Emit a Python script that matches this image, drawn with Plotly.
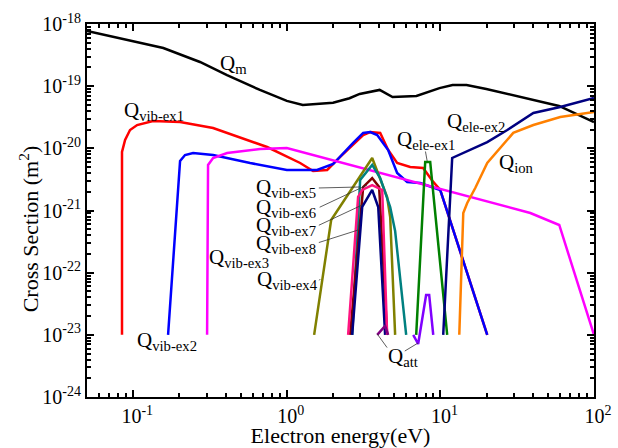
import plotly.graph_objects as go
import math

# ---------------- data (energy in eV, cross section in m^2) ----------------
qm_x = [0.05, 0.106, 0.157, 0.272, 0.408, 0.668, 1.0, 1.27, 1.64, 2.0, 2.56, 2.98,
        4.02, 4.88, 6.98, 8.11, 9.86, 12.0, 14.8, 19.9, 39.5, 59.2, 100]
qm_y = [7.7e-19, 5.1e-19, 4.1e-19, 2.45e-19, 1.51e-19, 8.7e-20, 5.8e-20, 5.0e-20, 5.2e-20,
        5.4e-20, 6.4e-20, 7.5e-20, 8.7e-20, 6.7e-20, 6.95e-20, 7.8e-20, 9.3e-20, 1.04e-19,
        1.04e-19, 9.0e-20, 6.0e-20, 4.8e-20, 2.65e-20]

vib1_x = [0.0845, 0.0845, 0.0885, 0.0953, 0.106, 0.1345, 0.2018, 0.3311, 0.7441, 1.221,
          1.483, 1.831, 2.225, 3.141, 3.49, 4.055, 4.569, 5.228, 6.358, 7.72, 8.98, 9.97, 20.18]
vib1_y = [1e-23, 8.73e-21, 1.36e-20, 1.97e-20, 2.37e-20, 2.75e-20, 2.65e-20, 2.12e-20,
          1.05e-20, 5.81e-21, 4.32e-21, 4.49e-21, 7.26e-21, 1.64e-20, 1.83e-20, 1.77e-20,
          9.40e-21, 5.81e-21, 5.01e-21, 4.83e-21, 2.88e-21, 2.14e-21, 1e-23]

vib2_x = [0.1686, 0.2018, 0.2174, 0.2453, 0.3311, 0.5768, 1.0, 1.574, 2.003, 2.327, 2.703,
          3.141, 3.49, 3.877, 4.569, 5.228, 6.077, 7.384, 9.97, 20.18]
vib2_y = [1e-23, 6.25e-21, 7.81e-21, 8.41e-21, 7.81e-21, 5.81e-21, 4.49e-21, 4.49e-21,
          5.60e-21, 8.41e-21, 1.22e-20, 1.77e-20, 1.83e-20, 1.64e-20, 9.40e-21, 4.01e-21,
          2.88e-21, 2.77e-21, 2.14e-21, 1e-23]

vib3_x = [0.3026, 0.307, 0.3311, 0.4085, 0.6699, 1.0, 38.5, 59.4, 100]
vib3_y = [1e-23, 5.40e-21, 7.00e-21, 8.41e-21, 9.76e-21, 1.01e-20, 9.12e-22, 5.85e-22, 1e-23]

vib4_x = [1.506, 1.944, 3.596, 3.936, 4.499, 4.709, 5.072]
vib4_y = [1e-23, 7.04e-22, 7.00e-21, 4.01e-21, 1.65e-21, 7.87e-22, 1e-23]

vib5_x = [2.663, 3.002, 3.596, 4.055, 4.709, 5.072, 5.986]
vib5_y = [1e-23, 3.10e-21, 5.40e-21, 3.33e-21, 1.14e-21, 4.68e-22, 1e-23]

vib6_x = [2.584, 3.141, 3.596, 3.99, 4.499]
vib6_y = [1e-23, 2.39e-21, 3.33e-21, 2.39e-21, 1e-23]

vib8_x = [2.663, 3.096, 3.596, 3.936, 4.365]
vib8_y = [1e-23, 1.14e-21, 2.14e-21, 1.14e-21, 1e-23]

vib7_x = [2.507, 2.912, 3.096, 3.596, 4.178, 4.24, 4.499]
vib7_y = [1e-23, 1.65e-21, 2.14e-21, 2.57e-21, 2.14e-21, 7.87e-22, 1e-23]

ele1_x = [6.956, 7.96, 8.58, 11.07]
ele1_y = [1e-23, 6.03e-21, 6.03e-21, 1e-23]

ele2_x = [10.43, 11.93, 20.18, 27.25, 40.3, 60.3, 100]
ele2_y = [1e-23, 7.00e-21, 1.26e-20, 1.97e-20, 3.70e-20, 4.62e-20, 6.45e-20]

ion_x = [13.27, 14.09, 14.95, 16.86, 20.18, 29.8, 40.3, 60.3, 100]
ion_y = [1e-23, 9.12e-22, 1.32e-21, 2.30e-21, 5.81e-21, 1.77e-20, 2.37e-20, 3.19e-20, 3.84e-20]

att1_x = [3.877, 4.365, 4.569]
att1_y = [1e-23, 1.39e-23, 1e-23]

att2_x = [6.653, 7.163, 8.07, 8.45, 8.98]
att2_y = [1e-23, 7.13e-24, 4.38e-23, 4.38e-23, 1e-23]

x_tickvals = [0.1, 1, 10, 100]
x_ticktext = ["10<sup>-1</sup>", "10<sup>0</sup>", "10<sup>1</sup>", "10<sup>2</sup>"]
y_tickvals = [1e-24, 1e-23, 1e-22, 1e-21, 1e-20, 1e-19, 1e-18]
y_ticktext = ["10<sup>-24</sup>", "10<sup>-23</sup>", "10<sup>-22</sup>", "10<sup>-21</sup>",
              "10<sup>-20</sup>", "10<sup>-19</sup>", "10<sup>-18</sup>"]

FONT = "Liberation Serif, Times New Roman, serif"

series = [
    ("Qm", qm_x, qm_y, "#000000"),
    ("Qvib-ex1", vib1_x, vib1_y, "#FF0000"),
    ("Qvib-ex2", vib2_x, vib2_y, "#0000FF"),
    ("Qvib-ex3", vib3_x, vib3_y, "#FF00FF"),
    ("Qvib-ex4", vib4_x, vib4_y, "#808000"),
    ("Qvib-ex5", vib5_x, vib5_y, "#008080"),
    ("Qvib-ex6", vib6_x, vib6_y, "#800000"),
    ("Qvib-ex8", vib8_x, vib8_y, "#000080"),
    ("Qvib-ex7", vib7_x, vib7_y, "#FF1480"),
    ("Qele-ex1", ele1_x, ele1_y, "#008000"),
    ("Qele-ex2", ele2_x, ele2_y, "#000080"),
    ("Qion", ion_x, ion_y, "#FF8000"),
    ("Qatt1", att1_x, att1_y, "#800080"),
    ("Qatt2", att2_x, att2_y, "#8000FF"),
]

fig = go.Figure()
for name, xs, ys, col in series:
    fig.add_trace(go.Scatter(x=xs, y=ys, mode="lines", name=name, showlegend=False,
                             line=dict(color=col, width=2.5)))

# labels: (text, energy, cross section) -- left-anchored
labels = [
    ("Q<sub>m</sub>", 0.356, 2.3e-19),
    ("Q<sub>vib-ex1</sub>", 0.0845, 3.98e-20),
    ("Q<sub>vib-ex2</sub>", 0.103, 7.9e-24),
    ("Q<sub>vib-ex3</sub>", 0.303, 1.72e-22),
    ("Q<sub>vib-ex4</sub>", 0.621, 7.6e-23),
    ("Q<sub>vib-ex5</sub>", 0.612, 2.3e-21),
    ("Q<sub>vib-ex6</sub>", 0.612, 1.1e-21),
    ("Q<sub>vib-ex7</sub>", 0.612, 5.64e-22),
    ("Q<sub>vib-ex8</sub>", 0.612, 2.89e-22),
    ("Q<sub>ele-ex1</sub>", 5.08, 1.36e-20),
    ("Q<sub>ele-ex2</sub>", 10.74, 2.65e-20),
    ("Q<sub>ion</sub>", 23.4, 5.81e-21),
    ("Q<sub>att</sub>", 4.44, 4.4e-24),
]
for txt, lx, ly in labels:
    fig.add_annotation(x=math.log10(lx), y=math.log10(ly), xref="x", yref="y", text=txt,
                       showarrow=False, xanchor="left", yanchor="middle",
                       font=dict(family=FONT, size=21, color="black"))

# leader lines: (start energy, start cs, end energy, end cs)
leaders = [
    (1.58, 2.3e-21, 3.00, 2.39e-21),
    (1.60, 1.1e-21, 3.33, 2.57e-21),
    (1.58, 5.64e-22, 3.10, 1.23e-21),
    (1.58, 3.0e-22, 2.91, 4.85e-22),
    (1.60, 7.1e-23, 1.65, 7.9e-23),
    (7.96, 9.4e-21, 8.2, 6.25e-21),
    (4.57, 5.9e-24, 3.88, 1.03e-23),
    (5.73, 5.3e-24, 7.16, 7.4e-24),
]
for sx, sy, ex, ey in leaders:
    fig.add_annotation(x=math.log10(ex), y=math.log10(ey), ax=math.log10(sx), ay=math.log10(sy),
                       xref="x", yref="y", axref="x", ayref="y", text="", showarrow=True,
                       arrowhead=0, arrowwidth=0.8, arrowcolor="#333333", standoff=0, startstandoff=0)

# y-axis title placed as a rotated annotation
fig.add_annotation(x=-0.114, y=0.45, xref="paper", yref="paper", text="Cross Section (m<sup>2</sup>)",
                   textangle=-90, showarrow=False, xanchor="center", yanchor="middle",
                   font=dict(family=FONT, size=22, color="black"))

minor_x = [m * 10 ** e for e in range(-2, 2) for m in range(2, 10)]
minor_y = [m * 10.0 ** e for e in range(-25, -18) for m in range(2, 10)]

axis_common = dict(type="log", showgrid=False, zeroline=False, showline=True, linecolor="black",
                   linewidth=2, mirror="allticks", ticks="inside", ticklen=7, tickwidth=1.5,
                   tickcolor="black", tickfont=dict(family=FONT, size=20, color="black"),
                   automargin=False)

fig.update_xaxes(**axis_common, range=[math.log10(0.05), 2], tickmode="array",
                 tickvals=x_tickvals, ticktext=x_ticktext, ticklabelshift=4,
                 minor=dict(ticks="inside", ticklen=4, tickwidth=1.5, tickcolor="black",
                            tickmode="array", tickvals=minor_x, showgrid=False),
                 title=dict(text="Electron energy(eV)", font=dict(family=FONT, size=22, color="black"),
                            standoff=0))
fig.update_yaxes(**axis_common, range=[-24, -18], tickmode="array",
                 tickvals=y_tickvals, ticktext=y_ticktext,
                 minor=dict(ticks="inside", ticklen=4, tickwidth=1.5, tickcolor="black",
                            tickmode="array", tickvals=minor_y, showgrid=False))

fig.update_layout(width=618, height=448, margin=dict(l=87, r=24, t=24, b=51),
                  plot_bgcolor="white", paper_bgcolor="white",
                  font=dict(family=FONT, color="black"))

fig.write_html("out.html")
